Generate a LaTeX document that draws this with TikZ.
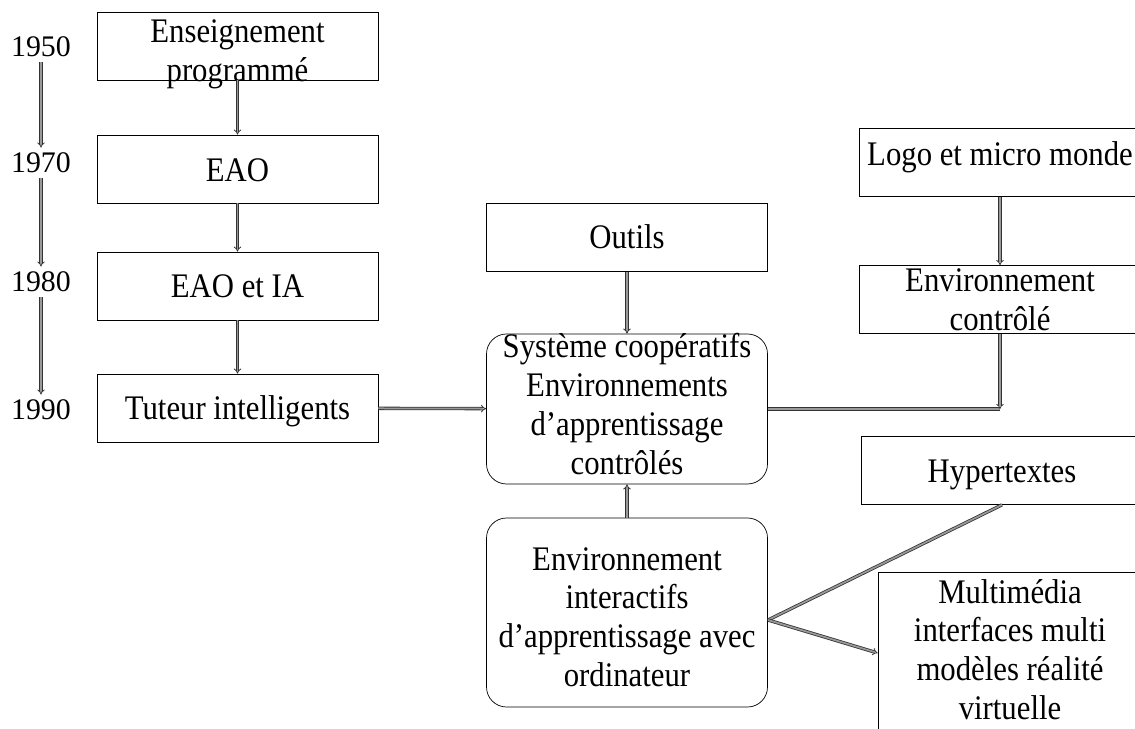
\documentclass[tikz,border=0pt]{standalone}
\usepackage{fontspec}
\setmainfont{Liberation Serif}
\usepackage{graphicx}
\usepackage{tikz}
\usetikzlibrary{arrows.meta}
% text a bit taller than wide, first baseline put #1 below the node centre
\newcommand{\tx}[2][2.3mm]{\raisebox{-#1}[0pt][0pt]{\scalebox{1}[1.12]{\begin{tabular}[t]{@{}c@{}}#2\end{tabular}}}}
\tikzstyle{block} = [rectangle, minimum width=56.2mm, minimum height=13.6mm, inner sep=0pt, text centered, draw=black, font=\fontsize{17.5}{19.8}\selectfont]
\tikzstyle{rblock} = [block, rounded corners=4mm]
\tikzstyle{year} = [inner sep=1mm, font=\fontsize{17}{20}\selectfont]
\tikzstyle{link} = [draw=black!80, line width=0.45pt, double=gray!80, double distance=0.35mm]
\tikzstyle{arrow} = [link, -{Implies}]

\begin{document}
\begin{tikzpicture}[x=0.2mm, y=-0.2mm]
        \useasboundingbox (0,0) rectangle (1135,729);
        \clip (0,0) rectangle (1135,729);
        % time line
        \node (y1950) [year] at (41,47) {1950};
        \node (y1970) [year] at (41,163) {1970};
        \node (y1980) [year] at (41,282) {1980};
        \node (y1990) [year] at (41,410) {1990};
        \draw [arrow] (y1950) -- (y1970);
        \draw [arrow] (y1970) -- (y1980);
        \draw [arrow] (y1980) -- (y1990);
        % left column
        \node (ep) [block] at (237.5,46) {\tx[-0.6mm]{Enseignement\\programmé}};
        \node (eao) [block] at (237.5,169) {\tx[2.5mm]{EAO}};
        \node (eaoia) [block] at (237.5,286) {\tx{EAO et IA}};
        \node (tuteur) [block] at (237.5,408) {\tx{Tuteur intelligents}};
        \draw [arrow] (ep) -- (eao);
        \draw [arrow] (eao) -- (eaoia);
        \draw [arrow] (eaoia) -- (tuteur);
        % middle column
        \node (outils) [block] at (627,237.5) {\tx{Outils}};
        \node (systeme) [rblock, minimum height=30mm] at (627,409) {\tx[-10.2mm]{Système coopératifs\\Environnements\\d’apprentissage\\contrôlés}};
        \node (eiao) [rblock, minimum height=37.8mm] at (627,612.5) {\tx[-8.5mm]{Environnement\\interactifs\\d’apprentissage avec\\ordinateur}};
        \draw [arrow] (tuteur) -- (systeme);
        \draw [arrow] (outils) -- (systeme);
        \draw [arrow] (eiao) -- (systeme);
        % right column
        \node (logo) [block] at (1000,162.5) {\tx[0.6mm]{Logo et micro monde}};
        \node (envc) [block] at (1000,299.5) {\tx[-1.5mm]{Environnement\\contrôlé}};
        \node (hyper) [block] at (1002,470.5) {\tx{Hypertextes}};
        \node (multi) [block, minimum width=52.8mm, minimum height=36mm] at (1010,662) {\tx[-11.8mm]{Multimédia\\interfaces multi\\modèles réalité\\virtuelle}};
        \draw [arrow] (logo) -- (envc);
        \coordinate (join) at (envc.south |- systeme.east);
        \draw [link] (systeme.east) -- (join);
        \draw [arrow] (envc.south) -- (join);
        \coordinate (fork) at (768,620);
        \draw [link] (hyper.south) -- (fork);
        \draw [arrow] (fork) -- ([yshift=1.8mm]multi.west);
    \end{tikzpicture}
\end{document}
